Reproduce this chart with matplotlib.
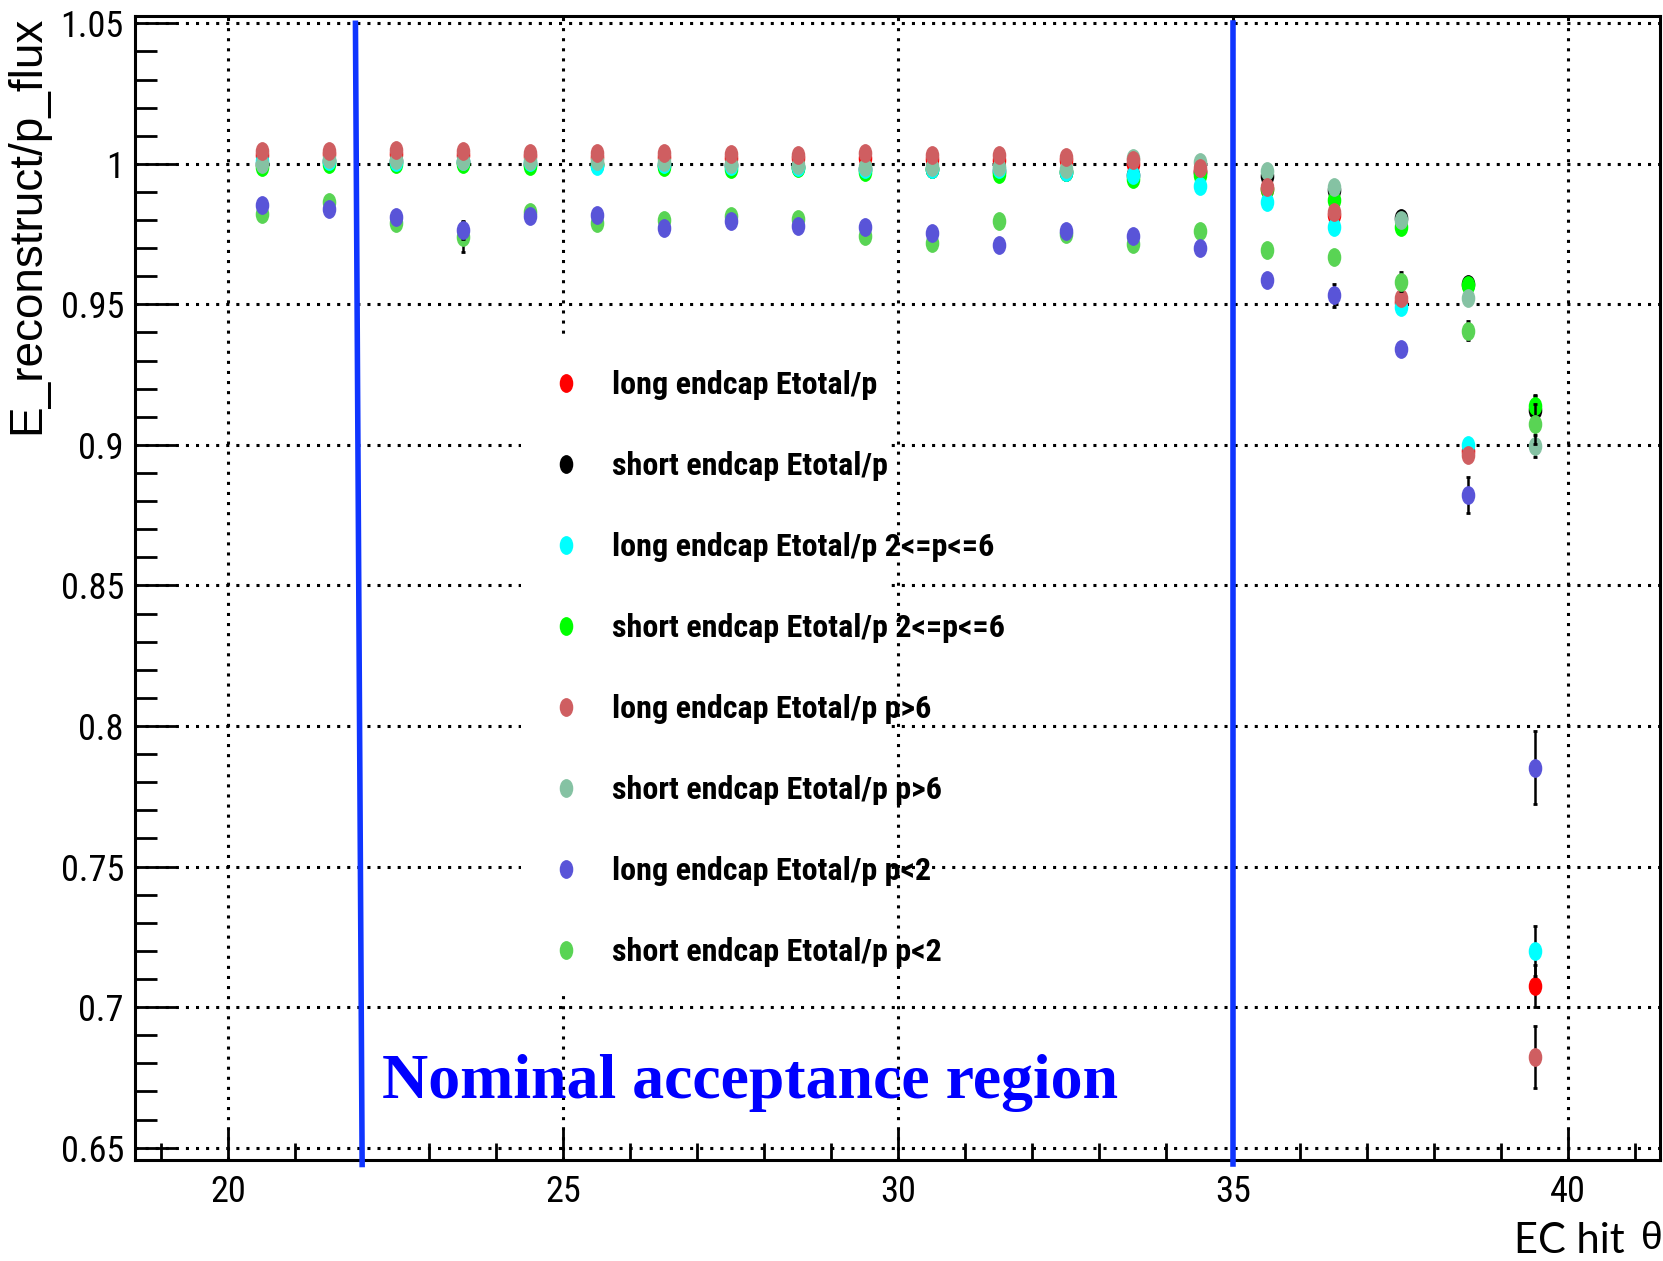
import matplotlib
matplotlib.use('Agg')
import matplotlib.pyplot as plt
from matplotlib import font_manager
from matplotlib.font_manager import FontProperties
from matplotlib.lines import Line2D
from matplotlib.markers import MarkerStyle
from matplotlib.patches import Rectangle
from matplotlib.path import Path
from matplotlib.textpath import TextPath
from matplotlib.transforms import Affine2D
from matplotlib.ticker import FixedLocator, MultipleLocator, FuncFormatter

# EC hit theta bin centres
theta = [20.5, 21.5, 22.5, 23.5, 24.5, 25.5, 26.5, 27.5, 28.5, 29.5,
         30.5, 31.5, 32.5, 33.5, 34.5, 35.5, 36.5, 37.5, 38.5, 39.5]

# E_reconstruct / p_flux per series
long_all = [1.0030, 1.0035, 1.0035, 1.0030, 1.0028, 1.0025, 1.0025, 1.0020, 1.0020, 1.0020,
            1.0018, 1.0015, 1.0012, 1.0000, 0.9975, 0.9910, 0.9819, 0.9510, 0.8980, 0.7075]
short_all = [1.0000, 1.0010, 1.0010, 1.0005, 1.0000, 1.0000, 0.9995, 0.9995, 0.9990, 0.9980,
             0.9980, 0.9975, 0.9970, 0.9960, 0.9970, 0.9955, 0.9907, 0.9807, 0.9573, 0.9125]
long_mid = [1.0010, 1.0010, 1.0008, 1.0010, 1.0005, 0.9994, 1.0000, 0.9994, 0.9988, 0.9980,
            0.9980, 0.9980, 0.9970, 0.9962, 0.9920, 0.9866, 0.9775, 0.9492, 0.9000, 0.7200]
short_mid = [0.9988, 1.0000, 1.0000, 1.0000, 0.9994, 0.9995, 0.9988, 0.9980, 0.9985, 0.9970,
             0.9980, 0.9964, 0.9970, 0.9947, 0.9960, 0.9910, 0.9872, 0.9777, 0.9570, 0.9137]
long_high = [1.0045, 1.0047, 1.0050, 1.0045, 1.0040, 1.0040, 1.0040, 1.0036, 1.0033, 1.0038,
             1.0032, 1.0030, 1.0026, 1.0012, 0.9985, 0.9917, 0.9830, 0.9522, 0.8965, 0.6823]
short_high = [1.0000, 1.0018, 1.0015, 1.0010, 1.0010, 1.0010, 1.0005, 1.0000, 0.9995, 0.9990,
              0.9990, 0.9990, 0.9980, 1.0020, 1.0006, 0.9973, 0.9917, 0.9800, 0.9522, 0.8997]
long_low = [0.9855, 0.9840, 0.9810, 0.9763, 0.9814, 0.9819, 0.9772, 0.9796, 0.9780, 0.9777,
            0.9753, 0.9713, 0.9760, 0.9745, 0.9700, 0.9587, 0.9532, 0.9342, 0.8822, 0.7852]
short_low = [0.9820, 0.9864, 0.9790, 0.9740, 0.9830, 0.9790, 0.9800, 0.9813, 0.9804, 0.9745,
             0.9720, 0.9796, 0.9750, 0.9715, 0.9760, 0.9694, 0.9670, 0.9581, 0.9407, 0.9074]

# statistical errors
long_all_err = [0.0005] * 17 + [0.001, 0.002, 0.0075]
short_all_err = [0.0005] * 15 + [0.001, 0.0015, 0.001, 0.001, 0.005]
long_mid_err = [0.0005] * 17 + [0.001, 0.002, 0.009]
short_mid_err = [0.0005] * 17 + [0.001, 0.001, 0.004]
long_high_err = [0.0005] * 17 + [0.001, 0.002, 0.011]
short_high_err = [0.0005] * 17 + [0.001, 0.001, 0.004]
long_low_err = [0.0008, 0.0008, 0.0008, 0.003, 0.0008, 0.0008, 0.0008, 0.0008, 0.0008, 0.0008,
                0.0008, 0.0008, 0.0008, 0.0008, 0.001, 0.002, 0.004, 0.002, 0.0065, 0.013]
short_low_err = [0.0008, 0.0008, 0.0008, 0.0055, 0.0008, 0.0008, 0.0008, 0.0008, 0.0008, 0.0008,
                 0.0008, 0.0008, 0.0008, 0.0008, 0.001, 0.001, 0.002, 0.0035, 0.0035, 0.007]

labels = ['long endcap Etotal/p', 'short endcap Etotal/p',
          'long endcap Etotal/p 2<=p<=6', 'short endcap Etotal/p 2<=p<=6',
          'long endcap Etotal/p p>6', 'short endcap Etotal/p p>6',
          'long endcap Etotal/p p<2', 'short endcap Etotal/p p<2']
colors = ['#ff0000', '#000000', '#00ffff', '#00ff00',
          '#cf5e61', '#85c2a3', '#5954d8', '#59d454']
values = [long_all, short_all, long_mid, short_mid, long_high, short_high, long_low, short_low]
errors = [long_all_err, short_all_err, long_mid_err, short_mid_err,
          long_high_err, short_high_err, long_low_err, short_low_err]
draw_order = [1, 0, 3, 2, 5, 4, 7, 6]

yticks = [0.65, 0.7, 0.75, 0.8, 0.85, 0.9, 0.95, 1.0, 1.05]
acceptance = (22.0, 35.0)

DPI = 100


def condensed_font(bold):
    # look for a narrow sans face, else plain Liberation Sans
    pref = ['Liberation Sans Narrow', 'Arial Narrow', 'Roboto Condensed', 'Noto Sans',
            'Open Sans', 'DejaVu Sans']
    stretch_rank = {'condensed': 0, 'semi-condensed': 1, 'extra-condensed': 2}
    best, best_key = None, None
    for f in font_manager.fontManager.ttflist:
        nm, st = f.name, str(f.stretch)
        narrow = 'Narrow' in nm or 'Condensed' in nm or 'condensed' in st
        if not narrow or f.style != 'normal' or 'Mono' in nm or 'Serif' in nm:
            continue
        w = f.weight if isinstance(f.weight, int) else font_manager.weight_dict.get(f.weight, 400)
        if (w >= 600) != bold or w > 800:
            continue
        key = (pref.index(nm) if nm in pref else len(pref), stretch_rank.get(st, 0))
        if best_key is None or key < best_key:
            best, best_key = f, key
    if best is not None:
        return FontProperties(fname=best.fname)
    return FontProperties(family='Liberation Sans', weight='bold' if bold else 'normal')


def fit_size(fp, text, target_px, max_pt):
    p = fp.copy()
    p.set_size(10)
    w = TextPath((0, 0), text, prop=p).get_extents().width * DPI / 72.0
    return min(max_pt, 10 * target_px / w)


tick_fp = condensed_font(False)
tick_fp.set_size(fit_size(tick_fp, '0.95', 60, 33))
leg_fp = condensed_font(True)
leg_fp.set_size(fit_size(leg_fp, 'long endcap Etotal/p', 262, 27.5))

# ROOT markers come out as tall ovals in this picture
oval = MarkerStyle(Path.unit_circle().transformed(Affine2D().scale(0.7, 1.0)))

fig = plt.figure(figsize=(16.63, 12.61), dpi=DPI)
ax = fig.add_axes([135 / 1663, 1 - 1160 / 1261, 1525 / 1663, 1144 / 1261])
ax.set_xlim(18.61, 41.37)
ax.set_ylim(0.6456, 1.0526)

ax.set_axisbelow(True)
ax.grid(True, which='major', color='black', linestyle=(0, (1, 2.3)), linewidth=2.2)

for i, k in enumerate(draw_order):
    ax.errorbar(theta, values[k], yerr=errors[k], linestyle='none', marker=oval, ms=12.5,
                mfc=colors[k], mec=colors[k], ecolor='black', elinewidth=1.8,
                capsize=1.5, capthick=2, zorder=3 + i * 0.5)

# white box behind the legend hides the grid
ax.add_patch(Rectangle((24.37, 0.7055), 5.46, 0.232, facecolor='white',
                       edgecolor='none', zorder=1.5))

# legend: text starts at x=612 px, rows centred from y=385 px every 81 px
handles = [Line2D([], [], linestyle='none', marker=oval, ms=12.5, color=c) for c in colors]
fs_px = leg_fp.get_size() * DPI / 72.0
pad = 46 / fs_px - 0.5


def make_legend(spacing, ax_x, ax_y):
    lg = fig.legend(handles, labels, loc='upper left', bbox_to_anchor=(ax_x, ax_y),
                    frameon=False, borderpad=0, handlelength=1.0, handletextpad=pad,
                    labelspacing=spacing, prop=leg_fp)
    lg.set_zorder(6)
    return lg


spacing, anc_x, anc_y = 1.2, 566 / 1663 - 0.5 * fs_px / 1663, 1 - 365 / 1261
leg = make_legend(spacing, anc_x, anc_y)
for _ in range(2):
    fig.canvas.draw()
    ext = [t.get_window_extent() for t in leg.get_texts()]
    pitch = (ext[0].y0 - ext[-1].y0) / (len(ext) - 1)
    dx = 612 - ext[0].x0
    dy = (1261 - 385) - (ext[0].y0 + ext[0].y1) / 2
    leg.remove()
    spacing += (81 - pitch) / fs_px
    anc_x += dx / 1663
    anc_y += dy / 1261
    leg = make_legend(spacing, anc_x, anc_y)

ax.plot([21.9, acceptance[0]], [1.05, 0.644], color='#0f35ff', lw=4, zorder=7, clip_on=False)
ax.plot([acceptance[1], acceptance[1]], [1.05, 0.644], color='#0f35ff', lw=4, zorder=7,
        clip_on=False)
ax.text(22.3, 0.6677, 'Nominal acceptance region', family='Liberation Serif',
        weight='bold', fontsize=46, color='#0000ff', va='baseline', zorder=8)

ax.xaxis.set_major_locator(MultipleLocator(5))
ax.xaxis.set_minor_locator(MultipleLocator(1))
ax.yaxis.set_major_locator(FixedLocator(yticks))
ax.yaxis.set_minor_locator(MultipleLocator(0.01))
ax.yaxis.set_major_formatter(FuncFormatter(lambda v, p: f'{round(v, 3):g}'))

ax.tick_params(axis='x', which='major', direction='in', length=23, width=2, pad=10,
               top=False)
ax.tick_params(axis='x', which='minor', direction='in', length=12, width=2, top=False)
ax.tick_params(axis='y', which='major', direction='in', length=31, width=2, pad=8,
               right=False)
ax.tick_params(axis='y', which='minor', direction='in', length=16, width=2, right=False)
for lab in ax.get_xticklabels() + ax.get_yticklabels():
    lab.set_fontproperties(tick_fp)

for s in ax.spines.values():
    s.set_linewidth(2.2)

fig.text(27 / 1663, 1 - 16 / 1261, 'E_reconstruct/p_flux', rotation=90, ha='center',
         va='top', family='Liberation Sans', fontsize=33)
fig.text(1625 / 1663, 1 - 1241 / 1261, 'EC hit', ha='right', va='center',
         family=['Lato', 'DejaVu Sans'], fontsize=30)
fig.text(1652 / 1663, 1 - 1239 / 1261, 'θ', ha='center', va='center',
         family=['Liberation Sans', 'DejaVu Sans'], fontsize=28)

fig.savefig('out.png', dpi=DPI)
